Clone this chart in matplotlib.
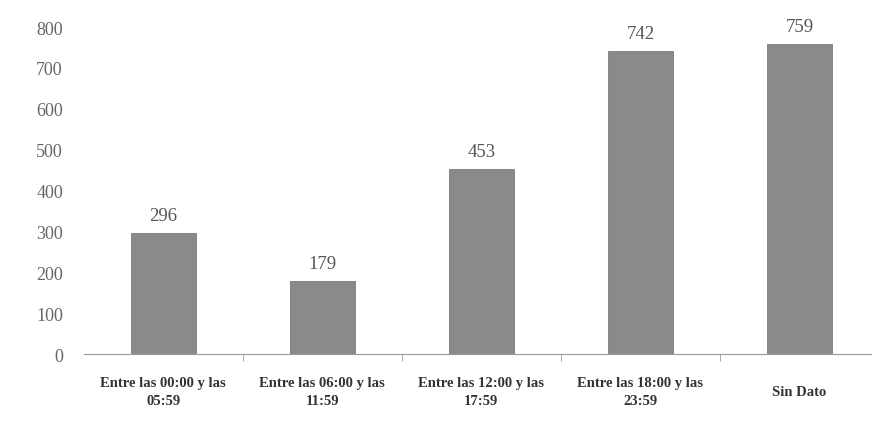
import numpy as np
import matplotlib.pyplot as plt

# categories and counts
categorias = ["Entre las 00:00 y las\n05:59", "Entre las 06:00 y las\n11:59",
              "Entre las 12:00 y las\n17:59", "Entre las 18:00 y las\n23:59",
              "Sin Dato"]
valores = [296, 179, 453, 742, 759]
yticks = [0, 100, 200, 300, 400, 500, 600, 700, 800]

plt.rcParams['font.family'] = ['Liberation Serif', 'DejaVu Serif']

fig = plt.figure(figsize=(8.72, 4.31), dpi=100, facecolor='w')
ax = fig.add_axes([0.096, 0.176, 0.904, 0.759])

x = np.arange(len(categorias))
bars = ax.bar(x, valores, width=0.41, color='#8a8a8a', edgecolor='#7a7a7a', linewidth=0.6, zorder=2)

for xi, v in zip(x, valores):
    ax.text(xi, v + 22, str(v), ha='center', va='bottom', fontsize=13.5, color='#555555')

ax.set_xlim(-0.5, 4.456)
ax.set_ylim(0, 800)
ax.set_yticks(yticks)
ax.tick_params(axis='y', length=0, labelsize=13, labelcolor='#666666', pad=15)

ax.set_xticks(x)
ax.set_xticklabels(categorias, fontsize=10.5, fontweight='bold', color='#333333',
                   linespacing=1.5, va='center')
ax.set_xticks(np.arange(0.5, len(categorias) - 0.5), minor=True)
ax.tick_params(axis='x', which='major', length=0, pad=27)
ax.tick_params(axis='x', which='minor', length=5, color='#999999')

for s in ['top', 'right', 'left']:
    ax.spines[s].set_visible(False)
ax.spines['bottom'].set_color('#999999')

fig.savefig('out.png', dpi=100, facecolor='w')
